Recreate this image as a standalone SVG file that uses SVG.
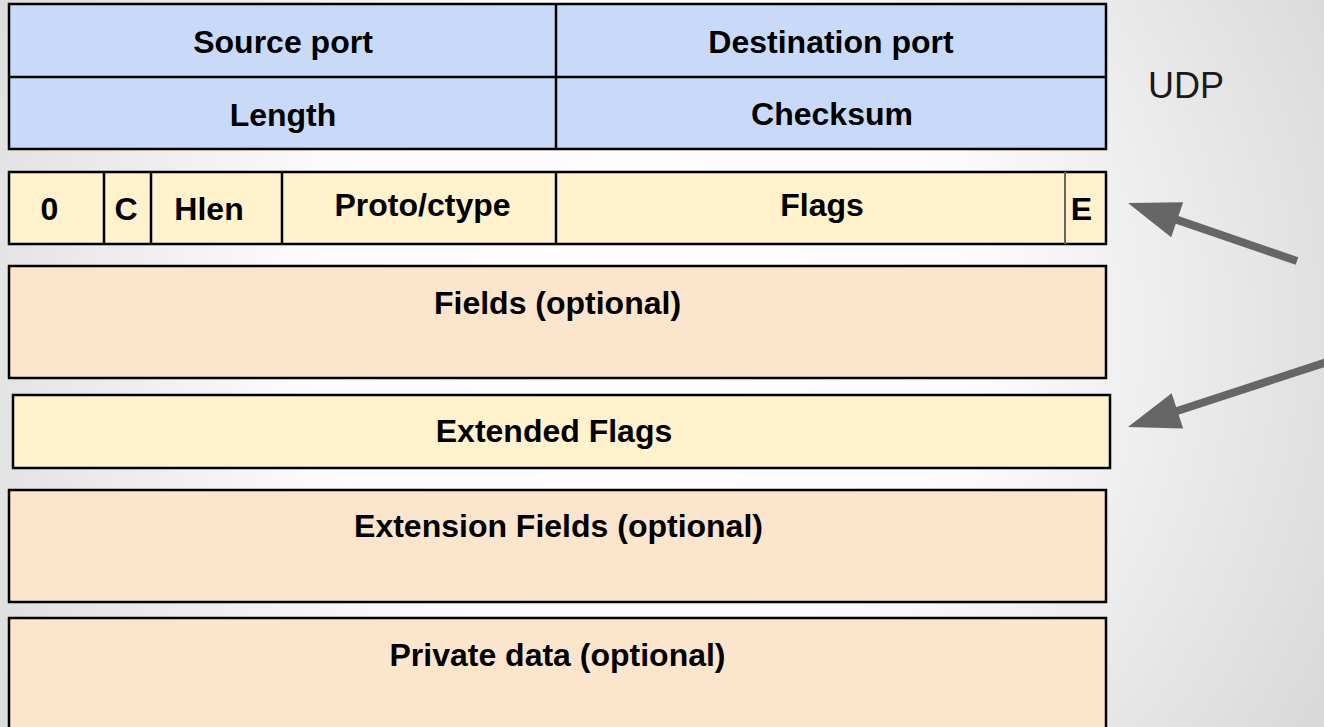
<svg xmlns="http://www.w3.org/2000/svg" width="1324" height="727" viewBox="0 0 1324 727">
<defs>
<radialGradient id="bg" gradientUnits="userSpaceOnUse" cx="640" cy="330" r="780">
<stop offset="0" stop-color="#ffffff"/>
<stop offset="0.45" stop-color="#fbfbfb"/>
<stop offset="1" stop-color="#d9d9d9"/>
</radialGradient>
<marker id="ah" markerUnits="userSpaceOnUse" markerWidth="60" markerHeight="40" viewBox="0 -20 54 40" refX="10" refY="0" orient="auto">
<path d="M52,0 L0,-18.5 L0,18.5 z" fill="#666666"/>
</marker>
</defs>
<style>
.t{font-family:"Liberation Sans",Arial,sans-serif;font-weight:bold;font-size:32px;fill:#000;text-anchor:middle}
.box{stroke:#000;stroke-width:2.5}
.blue{fill:#c9daf8}
.yel{fill:#fff2cc}
.pch{fill:#fce5cd}
.div{stroke:#000;stroke-width:2.5}
.conn{stroke:#666666;stroke-width:8;fill:none}
</style>
<rect x="0" y="0" width="1324" height="727" fill="url(#bg)"/>

<g id="udp-header">
<rect class="box blue" x="9" y="4" width="1097" height="145"/>
<line class="div" x1="9" y1="77" x2="1106" y2="77"/>
<line class="div" x1="556" y1="4" x2="556" y2="149"/>
<text class="t" x="283" y="53">Source port</text>
<text class="t" x="831" y="53">Destination port</text>
<text class="t" x="283" y="126">Length</text>
<text class="t" x="832" y="125">Checksum</text>
</g>

<g id="udp-label">
<text x="1148" y="98" style="font-family:'Liberation Sans',Arial,sans-serif;font-size:36px;fill:#1a1a1a">UDP</text>
</g>

<g id="base-header">
<rect class="box yel" x="9" y="172" width="1097" height="72"/>
<line class="div" x1="104" y1="172" x2="104" y2="244"/>
<line class="div" x1="151" y1="172" x2="151" y2="244"/>
<line class="div" x1="282" y1="172" x2="282" y2="244"/>
<line class="div" x1="556" y1="172" x2="556" y2="244"/>
<line x1="1065" y1="172" x2="1065" y2="244" stroke="#666666" stroke-width="2"/>
<text class="t" x="49.5" y="220">0</text>
<text class="t" x="126" y="220">C</text>
<text class="t" x="209" y="220">Hlen</text>
<text class="t" x="422.5" y="216">Proto/ctype</text>
<text class="t" x="822" y="216">Flags</text>
<text class="t" x="1081.5" y="220">E</text>
</g>

<g id="fields">
<rect class="box pch" x="9" y="266" width="1097" height="112"/>
<text class="t" x="557.5" y="314">Fields (optional)</text>
</g>

<g id="extended-flags">
<rect class="box yel" x="13" y="395" width="1097" height="73"/>
<text class="t" x="554" y="442">Extended Flags</text>
</g>

<g id="extension-fields">
<rect class="box pch" x="9" y="490" width="1097" height="112"/>
<text class="t" x="558.5" y="537">Extension Fields (optional)</text>
</g>

<g id="private-data">
<rect class="box pch" x="9" y="618" width="1097" height="130"/>
<text class="t" x="557.5" y="666">Private data (optional)</text>
</g>

<g id="connectors">
<line class="conn" x1="1297" y1="261" x2="1167.7" y2="216.6" marker-end="url(#ah)"/>
<line class="conn" x1="1332" y1="360.3" x2="1167.9" y2="414" marker-end="url(#ah)"/>
</g>
</svg>
